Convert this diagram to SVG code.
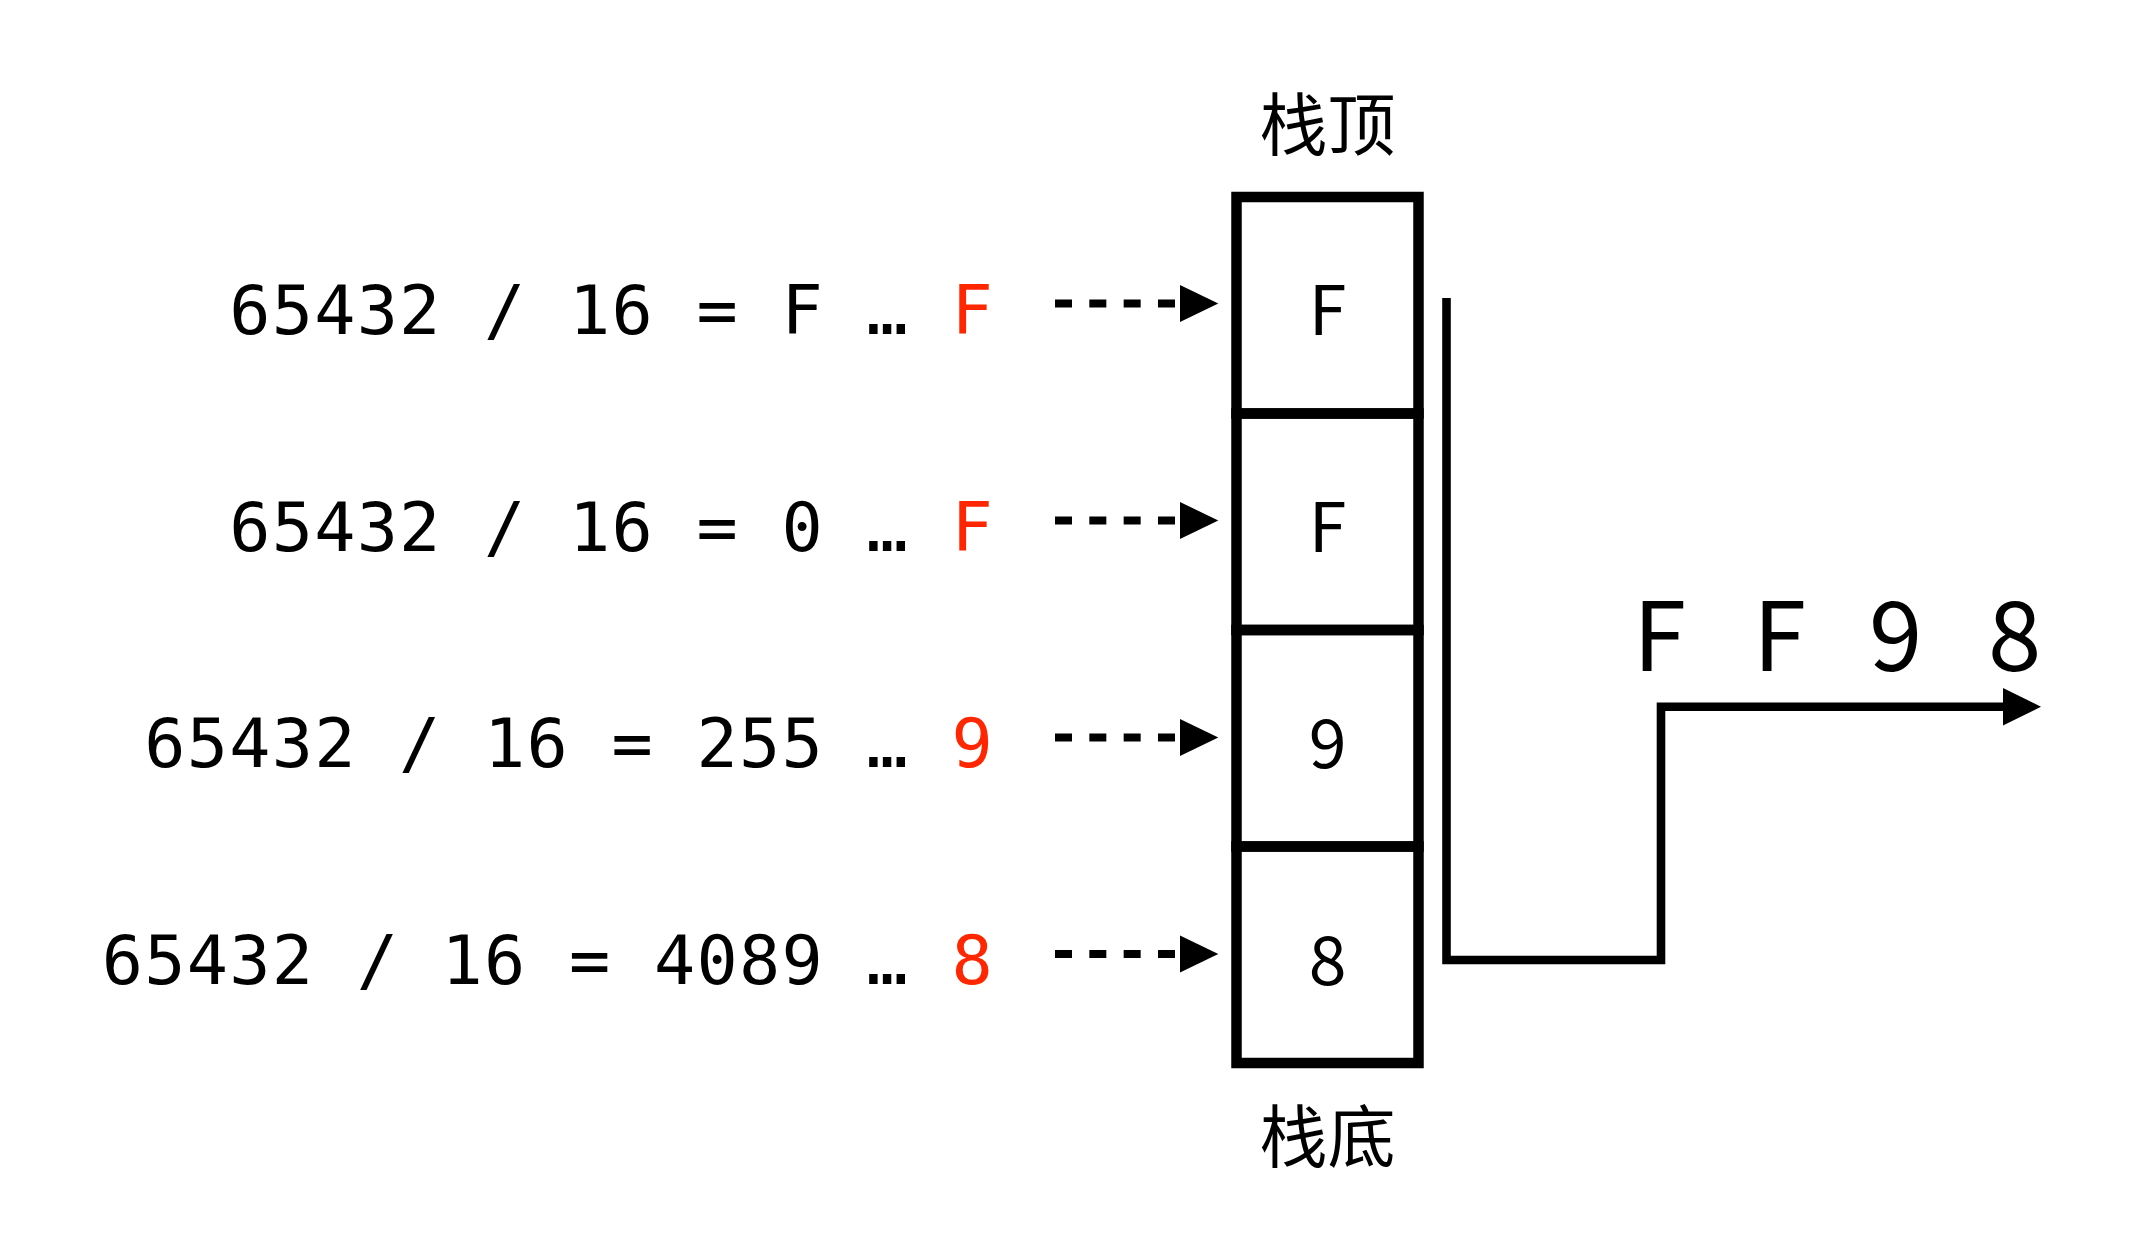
<svg xmlns="http://www.w3.org/2000/svg" width="2144" height="1252" viewBox="0 0 2144 1252">
<style>
.eq{font-family:"DejaVu Sans Mono","Liberation Mono",monospace;font-size:68.5px;letter-spacing:1.25px;fill:#000;text-anchor:end}
.red{fill:#ff2600}
.cell{fill:none;stroke:#000;stroke-width:10.5}
.val{font-family:"Noto Sans CJK SC","Liberation Sans",sans-serif;font-size:68px;fill:#000;text-anchor:middle}
.lbl{font-family:"Noto Sans CJK SC","Noto Sans CJK JP",sans-serif;font-size:68px;fill:#000;text-anchor:middle}
.out{font-family:"Noto Sans CJK SC","Liberation Sans",sans-serif;font-size:96px;fill:#000}
.dash{stroke:#000;stroke-width:8;stroke-dasharray:17 17.33;fill:none}
.head{fill:#000}
.flow{fill:none;stroke:#000;stroke-width:8.6;stroke-linejoin:miter}
</style>
<rect width="2144" height="1252" fill="#fff"/>
<g id="equations">
<text id="eq1" class="eq" x="994" y="334">65432 / 16 = F … <tspan class="red">F</tspan></text>
<text id="eq2" class="eq" x="994" y="550.5">65432 / 16 = 0 … <tspan class="red">F</tspan></text>
<text id="eq3" class="eq" x="994" y="767">65432 / 16 = 255 … <tspan class="red">9</tspan></text>
<text id="eq4" class="eq" x="994" y="984">65432 / 16 = 4089 … <tspan class="red">8</tspan></text>
</g>
<g id="stack">
<text id="top-label" class="lbl" x="1327.5" y="150">栈顶</text>
<g id="cell1"><rect class="cell" x="1236.5" y="197" width="182" height="216.5"/><text class="val" x="1327.5" y="335">F</text></g>
<g id="cell2"><rect class="cell" x="1236.5" y="413.5" width="182" height="216.5"/><text class="val" x="1327.5" y="551.5">F</text></g>
<g id="cell3"><rect class="cell" x="1236.5" y="630" width="182" height="216.5"/><text class="val" x="1327.5" y="768">9</text></g>
<g id="cell4"><rect class="cell" x="1236.5" y="846.5" width="182" height="216.5"/><text class="val" x="1327.5" y="985">8</text></g>
<text id="bottom-label" class="lbl" x="1327.5" y="1162">栈底</text>
</g>
<g id="result">
<text class="out" x="1633 1690 1753 1810 1869 1930 1988" y="671">F F 9 8</text>
</g>
<g id="connectors">
<line class="dash" x1="1055" y1="303.5" x2="1175" y2="303.5"/>
<polygon class="head" points="1180,285 1218.3,303.5 1180,322"/>
<line class="dash" x1="1055" y1="520.5" x2="1175" y2="520.5"/>
<polygon class="head" points="1180,502 1218.3,520.5 1180,539"/>
<line class="dash" x1="1055" y1="737.5" x2="1175" y2="737.5"/>
<polygon class="head" points="1180,719 1218.3,737.5 1180,756"/>
<line class="dash" x1="1055" y1="954" x2="1175" y2="954"/>
<polygon class="head" points="1180,935.5 1218.3,954 1180,972.5"/>
<path class="flow" d="M1446.5,298 V960 H1661 V706.7 H2004"/>
<polygon class="head" points="2003,688 2041,706.7 2003,725.4"/>
</g>
</svg>
